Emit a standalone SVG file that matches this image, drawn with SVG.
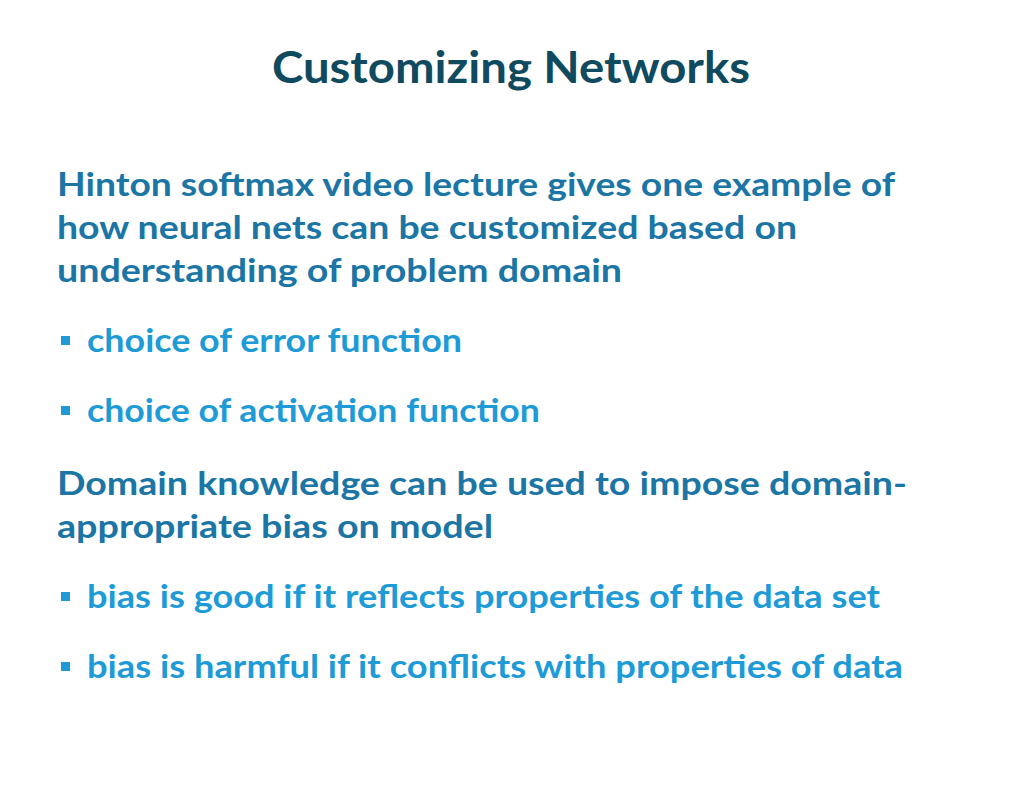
<svg xmlns="http://www.w3.org/2000/svg" width="1024" height="791" viewBox="0 0 1024 791">
<style>
text{font-family:Lato,"Open Sans",sans-serif;font-weight:bold}
.t{fill:#0F4A5F;font-size:44px}
.m{fill:#1B75A5;font-size:32px}
.b{fill:#1E9BD7;font-size:32px}
.sq{fill:#1E9BD7}
</style>
<rect width="1024" height="791" fill="#fff"/>
<text class="t" x="272" y="83" textLength="478" lengthAdjust="spacingAndGlyphs">Customizing Networks</text>
<text class="m" x="57" y="196" textLength="838" lengthAdjust="spacingAndGlyphs">Hinton softmax video lecture gives one example of</text>
<text class="m" x="57" y="239" textLength="740" lengthAdjust="spacingAndGlyphs">how neural nets can be customized based on</text>
<text class="m" x="57" y="282" textLength="565" lengthAdjust="spacingAndGlyphs">understanding of problem domain</text>
<rect class="sq" x="61" y="336" width="9" height="9"/>
<text class="b" x="87" y="352" textLength="375" lengthAdjust="spacingAndGlyphs">choice of error function</text>
<rect class="sq" x="61" y="406" width="9" height="9"/>
<text class="b" x="87" y="422" textLength="453" lengthAdjust="spacingAndGlyphs">choice of activation function</text>
<text class="m" x="57" y="495" textLength="850" lengthAdjust="spacingAndGlyphs">Domain knowledge can be used to impose domain-</text>
<text class="m" x="57" y="538" textLength="436" lengthAdjust="spacingAndGlyphs">appropriate bias on model</text>
<rect class="sq" x="61" y="592" width="9" height="9"/>
<text class="b" x="87" y="608" textLength="793" lengthAdjust="spacingAndGlyphs">bias is good if it reflects properties of the data set</text>
<rect class="sq" x="61" y="662" width="9" height="9"/>
<text class="b" x="87" y="678" textLength="816" lengthAdjust="spacingAndGlyphs">bias is harmful if it conflicts with properties of data</text>
</svg>
